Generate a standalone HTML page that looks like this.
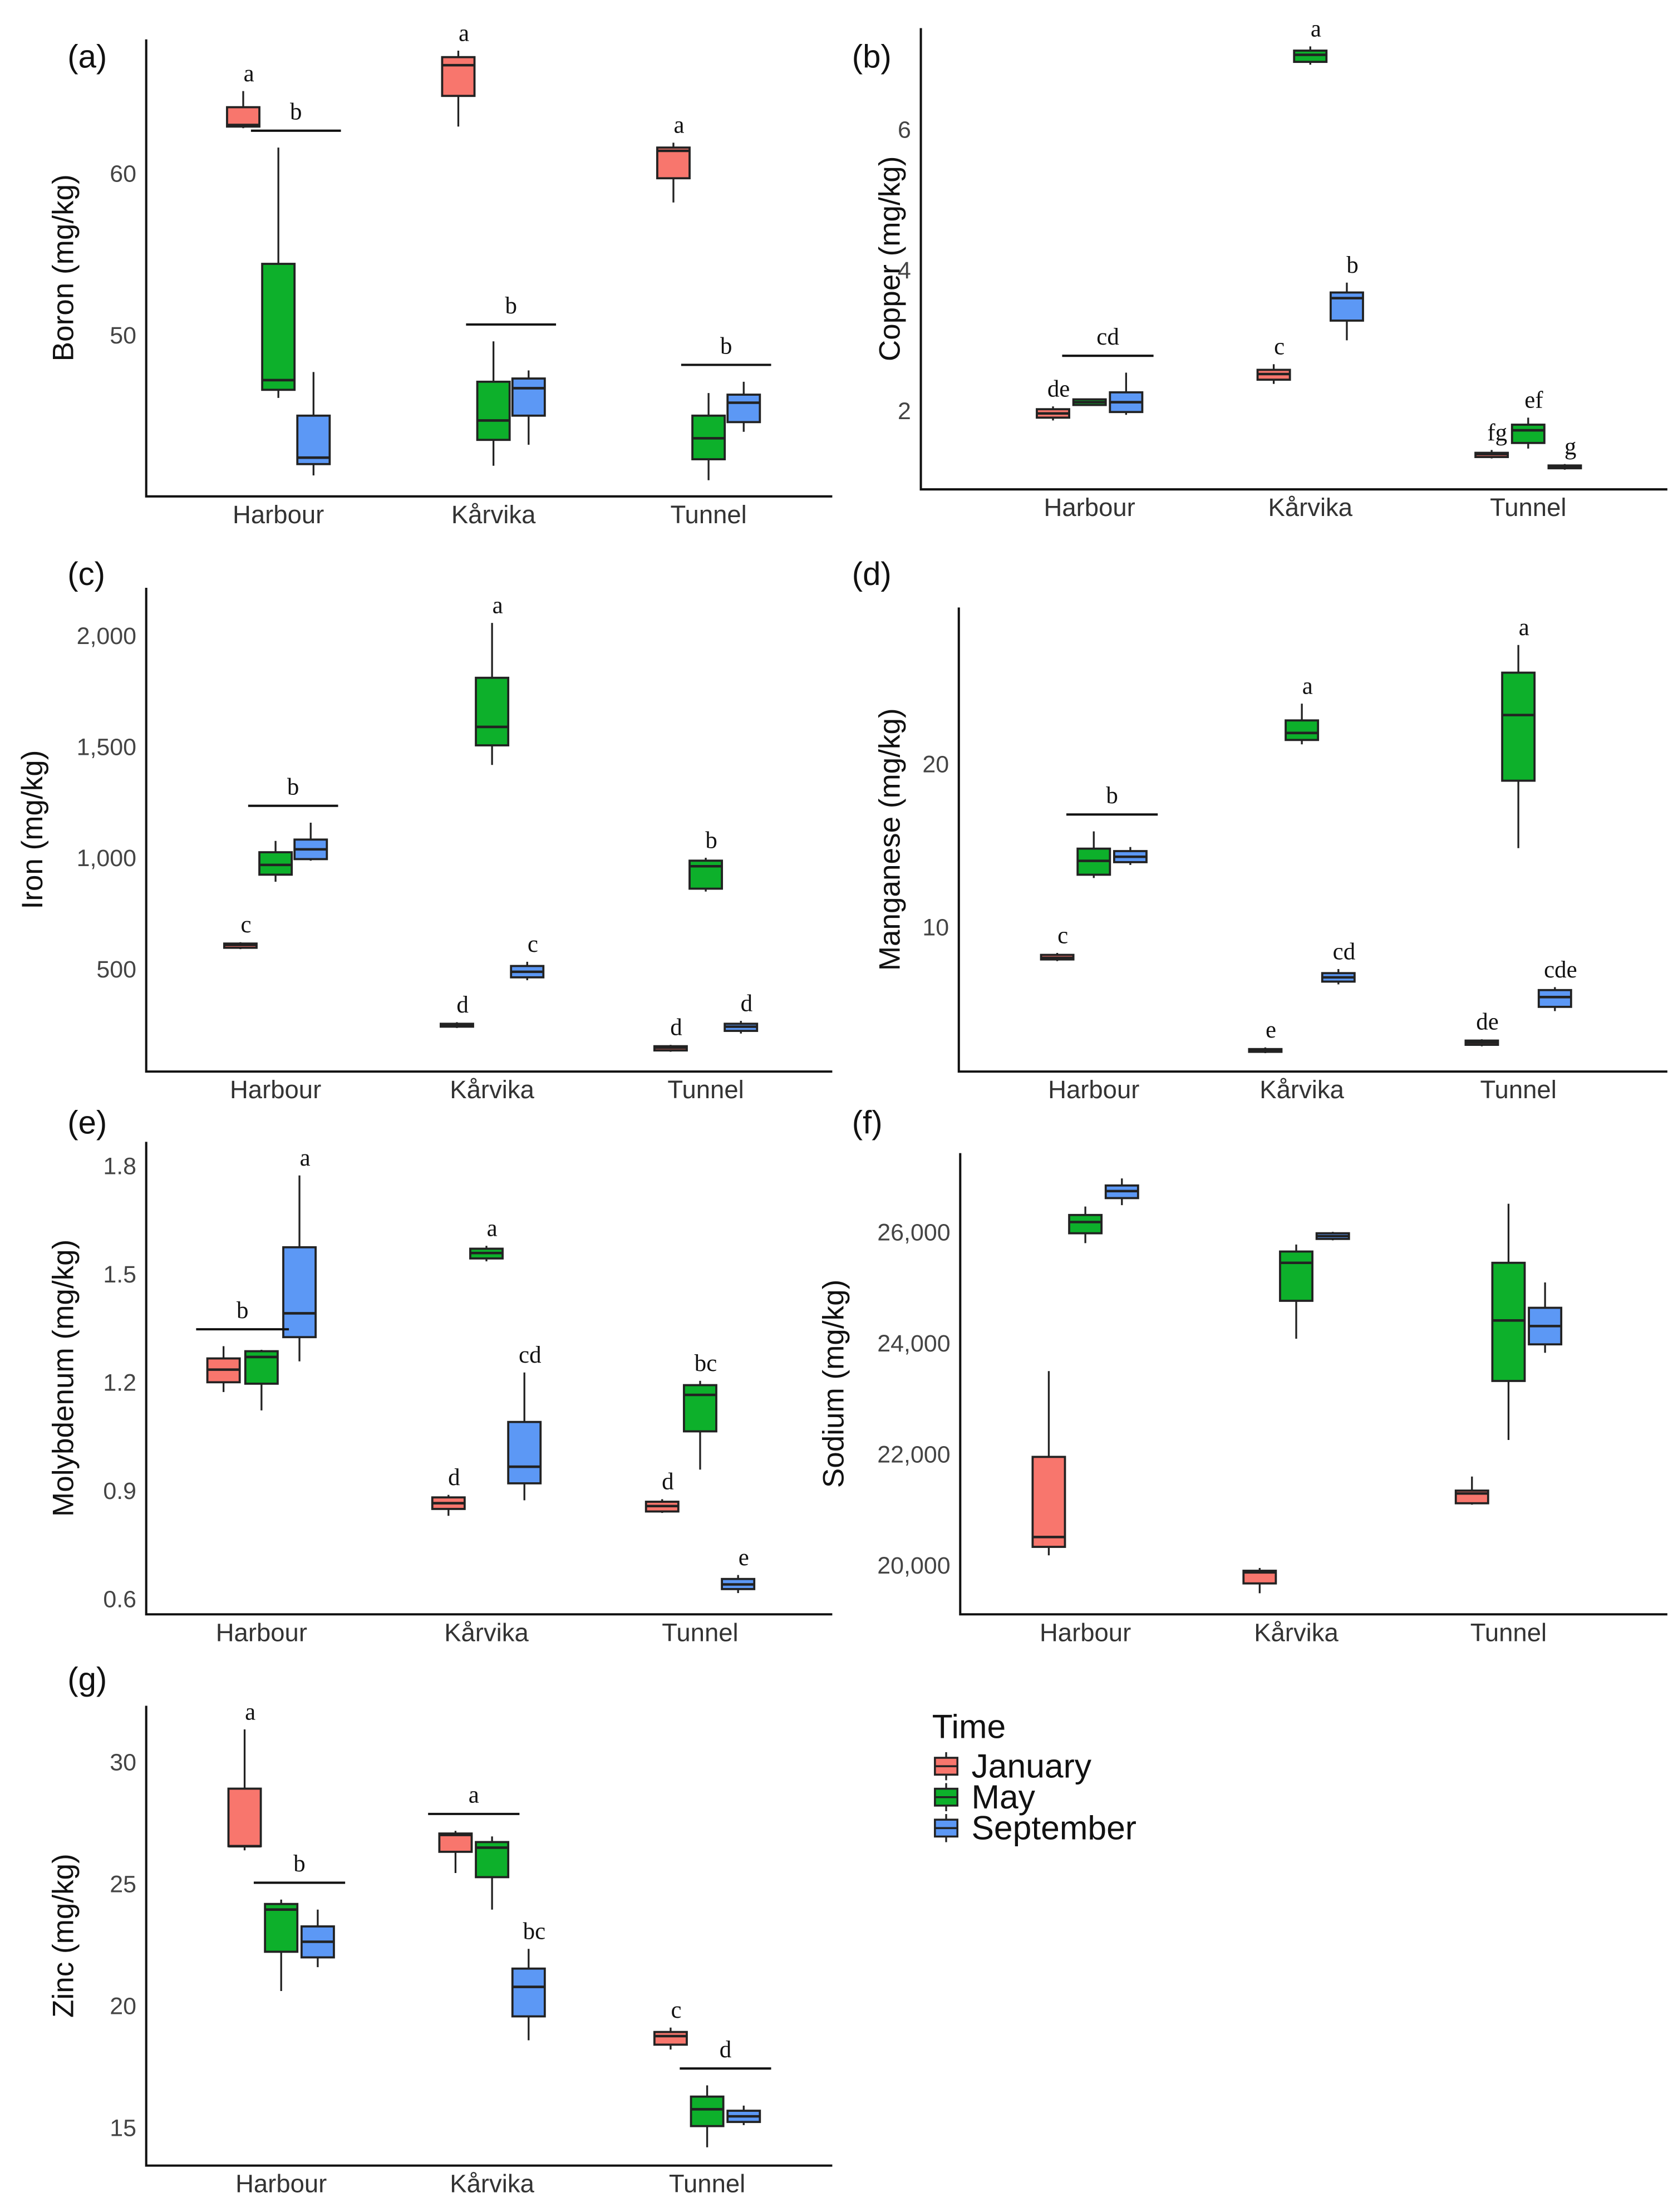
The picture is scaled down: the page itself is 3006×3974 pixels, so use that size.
<!DOCTYPE html>
<html><head><meta charset="utf-8"><style>
html,body{margin:0;padding:0;background:#fff}
svg{display:block}
text{font-family:"Liberation Sans",sans-serif}
.lt{font-family:"Liberation Serif",serif;font-size:17px;fill:#111}
.tk{font-size:17px;fill:#444}
.xl{font-size:18px;fill:#333}
.tt{font-size:21px;fill:#111}
.pl{font-size:23px;fill:#111}
</style></head><body>
<svg id="fig" width="3006" height="3974" viewBox="0 0 1190 1573" preserveAspectRatio="none" xmlns="http://www.w3.org/2000/svg"></svg>
<script>
// Data: each entry [whiskerLow, q1, median, q3, whiskerHigh]; order H-Jan,H-May,H-Sep,K-Jan,K-May,K-Sep,T-Jan,T-May,T-Sep
const categories = ['Harbour','Kårvika','Tunnel'];
const seasons = ['January','May','September'];
const boron = [[62.8,62.9,63.0,64.1,65.1],[46.1,46.6,47.2,54.4,61.6],[41.3,42.0,42.4,45.0,47.7],
  [62.9,64.8,66.7,67.2,67.6],[41.9,43.5,44.7,47.1,49.6],[43.2,45.0,46.7,47.3,47.8],
  [58.2,59.7,61.4,61.6,61.9],[41.0,42.3,43.6,45.0,46.4],[44.0,44.6,45.8,46.3,47.1]];
const copper = [[1.86,1.9,1.96,2.02,2.06],[2.08,2.08,2.12,2.16,2.16],[1.94,1.98,2.12,2.26,2.54],
  [2.38,2.44,2.52,2.58,2.66],[6.92,6.96,7.06,7.12,7.18],[3.0,3.28,3.6,3.68,3.82],
  [1.32,1.34,1.38,1.4,1.44],[1.46,1.54,1.72,1.8,1.9],[1.16,1.18,1.2,1.22,1.24]];
const iron = [[589,595,608,614,620],[892,924,968,1025,1076],[987,994,1038,1082,1158],
  [234,240,247,253,260],[1418,1506,1589,1810,2057],[449,462,487,513,532],
  [127,133,145,152,158],[848,861,962,987,1000],[209,221,240,253,266]];
const manganese = [[7.9,8.0,8.1,8.28,8.4],[13.0,13.2,14.05,14.8,15.86],[13.8,13.97,14.3,14.65,14.9],
  [2.25,2.33,2.4,2.5,2.6],[21.2,21.47,21.9,22.67,23.7],[6.47,6.64,6.9,7.16,7.41],
  [2.67,2.76,2.9,3.02,3.1],[14.83,18.97,23.0,25.6,27.3],[4.83,5.09,5.69,6.12,6.3]];
const molybdenum = [[1.173,1.2,1.235,1.266,1.30],[1.122,1.196,1.27,1.286,1.29],[1.258,1.325,1.391,1.574,1.773],
  [0.83,0.849,0.865,0.881,0.888],[1.535,1.543,1.558,1.57,1.578],[0.873,0.92,0.966,1.09,1.227],
  [0.838,0.842,0.857,0.869,0.876],[0.958,1.064,1.165,1.192,1.204],[0.616,0.627,0.64,0.655,0.666]];
const sodium = [[20177,20329,20506,21949,23494],[25797,25975,26177,26304,26456],[26481,26608,26734,26835,26962],
  [19494,19671,19870,19899,19949],[24076,24759,25443,25646,25772],[25848,25873,25924,25975,26000],
  [21089,21114,21291,21342,21595],[22253,23316,24405,25443,26506],[23823,23975,24304,24633,25089]];
const zinc = [[26.37,26.54,26.54,28.9,31.33],[20.6,22.21,23.94,24.17,24.35],[21.58,21.98,22.62,23.25,23.94],
  [25.44,26.31,27.0,27.06,27.17],[23.94,25.27,26.48,26.71,26.94],[18.58,19.56,20.77,21.52,22.33],
  [18.2,18.4,18.75,18.92,19.1],[14.19,15.06,15.75,16.27,16.73],[15.1,15.23,15.46,15.69,15.9]];
// Tick values & labels
const boronTicks = [50,60], boronTickLabels = ['50','60'];
const copperTicks = [2,4,6], copperTickLabels = ['2','4','6'];
const ironTicks = [500,1000,1500,2000], ironTickLabels = ['500','1,000','1,500','2,000'];
const manganeseTicks = [10,20], manganeseTickLabels = ['10','20'];
const molybdenumTicks = [0.6,0.9,1.2,1.5,1.8], molybdenumTickLabels = ['0.6','0.9','1.2','1.5','1.8'];
const sodiumTicks = [20000,22000,24000,26000], sodiumTickLabels = ['20,000','22,000','24,000','26,000'];
const zincTicks = [15,20,25,30], zincTickLabels = ['15','20','25','30'];
// Significance letters: [text, box indices]
const boronLetters = [['a',[0]],['b',[1,2]],['a',[3]],['b',[4,5]],['a',[6]],['b',[7,8]]];
const copperLetters = [['de',[0]],['cd',[1,2]],['c',[3]],['a',[4]],['b',[5]],['fg',[6]],['ef',[7]],['g',[8]]];
const ironLetters = [['c',[0]],['b',[1,2]],['d',[3]],['a',[4]],['c',[5]],['d',[6]],['b',[7]],['d',[8]]];
const manganeseLetters = [['c',[0]],['b',[1,2]],['e',[3]],['a',[4]],['cd',[5]],['de',[6]],['a',[7]],['cde',[8]]];
const molybdenumLetters = [['b',[0,1]],['a',[2]],['d',[3]],['a',[4]],['cd',[5]],['d',[6]],['bc',[7]],['e',[8]]];
const sodiumLetters = [];
const zincLetters = [['a',[0]],['b',[1,2]],['a',[3,4]],['bc',[5]],['c',[6]],['d',[7,8]]];

const colors = ['#F8766D','#0DB02B','#5C98F5'];
const svg = document.getElementById('fig');
const NS = 'http://www.w3.org/2000/svg';
function mk(tag, attrs, parent, txt){const e=document.createElementNS(NS,tag);for(const k in attrs)e.setAttribute(k,attrs[k]);if(txt!==undefined)e.textContent=txt;(parent||svg).appendChild(e);return e;}

const panels = [
 {id:'boron',label:'(a)',title:'Boron (mg/kg)',data:boron,ticks:boronTicks,tl:boronTickLabels,letters:boronLetters,x0:104,x1:592,yT:28,yB:353,vT:68.3,vB:40,gx:[198,351,504],off:25,lx:48,ly:48,tx:52},
 {id:'copper',label:'(b)',title:'Copper (mg/kg)',data:copper,ticks:copperTicks,tl:copperTickLabels,letters:copperLetters,x0:655,x1:1186,yT:20,yB:348,vT:7.44,vB:0.88,gx:[775,932,1087],off:26,lx:606,ly:48,tx:640},
 {id:'iron',label:'(c)',title:'Iron (mg/kg)',data:iron,ticks:ironTicks,tl:ironTickLabels,letters:ironLetters,x0:104,x1:592,yT:418,yB:762,vT:2215,vB:38,gx:[196,350,502],off:25,lx:48,ly:416,tx:30},
 {id:'manganese',label:'(d)',title:'Manganese (mg/kg)',data:manganese,ticks:manganeseTicks,tl:manganeseTickLabels,letters:manganeseLetters,x0:682,x1:1186,yT:432,yB:762,vT:29.6,vB:1.12,gx:[778,926,1080],off:26,lx:606,ly:416,tx:640},
 {id:'molybdenum',label:'(e)',title:'Molybdenum (mg/kg)',data:molybdenum,ticks:molybdenumTicks,tl:molybdenumTickLabels,letters:molybdenumLetters,x0:104,x1:592,yT:812,yB:1148,vT:1.866,vB:0.557,gx:[186,346,498],off:27,lx:48,ly:806,tx:52},
 {id:'sodium',label:'(f)',title:'Sodium (mg/kg)',data:sodium,ticks:sodiumTicks,tl:sodiumTickLabels,letters:sodiumLetters,x0:683,x1:1186,yT:820,yB:1148,vT:27418,vB:19114,gx:[772,922,1073],off:26,lx:606,ly:806,tx:600},
 {id:'zinc',label:'(g)',title:'Zinc (mg/kg)',data:zinc,ticks:zincTicks,tl:zincTickLabels,letters:zincLetters,x0:104,x1:592,yT:1213,yB:1540,vT:32.3,vB:13.44,gx:[200,350,503],off:26,lx:48,ly:1202,tx:52}
];

panels.forEach(p=>{
  const g = mk('g',{});
  
  
  const y = v => p.yB - (v - p.vB)/(p.vT - p.vB)*(p.yB - p.yT);
  const bx = i => p.gx[Math.floor(i/3)] + (i%3-1)*p.off;
  const bw = 23;
  const lab = mk('text',{x:p.lx,y:p.ly,class:'pl'},g,p.label);
  
  
  const ax = mk('path',{d:`M${p.x0},${p.yT} V${p.yB} H${p.x1}`,fill:'none',stroke:'#111','stroke-width':1.6},g);
  
  
  const cy=(p.yT+p.yB)/2;
  const tt = mk('text',{x:p.tx,y:cy,class:'tt','text-anchor':'middle',transform:`rotate(-90 ${p.tx} ${cy})`},g,p.title);
  
  
  p.ticks.forEach((t,k)=>{
    const e = mk('text',{x:p.x0-7,y:y(t)+6,class:'tk','text-anchor':'end'},g,p.tl[k]);
    
    
  });
  categories.forEach((c,k)=>{
    const e = mk('text',{x:p.gx[k],y:p.yB+19,class:'xl','text-anchor':'middle'},g,c);
    
    
  });
  p.data.forEach((d,i)=>{
    const cx=bx(i);
    const b = mk('g',{},g);
    
    
    mk('line',{x1:cx,x2:cx,y1:y(d[0]),y2:y(d[4]),stroke:'#222','stroke-width':1.3},b);
    const top=y(d[3]), bot=y(d[1]);
    mk('rect',{x:cx-bw/2,y:top,width:bw,height:Math.max(bot-top,1.5),fill:colors[i%3],stroke:'#222','stroke-width':1.5},b);
    mk('line',{x1:cx-bw/2,x2:cx+bw/2,y1:y(d[2]),y2:y(d[2]),stroke:'#222','stroke-width':1.8},b);
  });
  p.letters.forEach(([t,idx])=>{
    const hi = Math.min(...idx.map(i=>y(p.data[i][4])));
    let xc, ly;
    if(idx.length>1){
      const xa=bx(idx[0])-bw/2-8, xb=bx(idx[idx.length-1])+bw/2+8;
      const by=hi-12;
      const bar = mk('line',{x1:xa,x2:xb,y1:by,y2:by,stroke:'#111','stroke-width':1.6},g);
      
      
      xc=(xa+xb)/2; ly=by-8;
    } else { xc=bx(idx[0])+4; ly=hi-7; }
    const e = mk('text',{x:xc,y:ly,class:'lt','text-anchor':'middle'},g,t);
    
    
  });
});

// Legend
const lg = mk('g',{});


const lt = mk('text',{x:663,y:1236,'font-size':24,fill:'#111'},lg,'Time');


seasons.forEach((s,k)=>{
  const yc = 1256 + k*22;
  const e = mk('g',{},lg);
  
  
  mk('line',{x1:673,x2:673,y1:yc-10,y2:yc+10,stroke:'#222','stroke-width':1.3},e);
  mk('rect',{x:665,y:yc-6,width:16,height:12,fill:colors[k],stroke:'#222','stroke-width':1.4},e);
  mk('line',{x1:665,x2:681,y1:yc,y2:yc,stroke:'#222','stroke-width':1.4},e);
  mk('text',{x:691,y:yc+8,'font-size':24,fill:'#111'},e,s);
});
</script>
</body></html>
